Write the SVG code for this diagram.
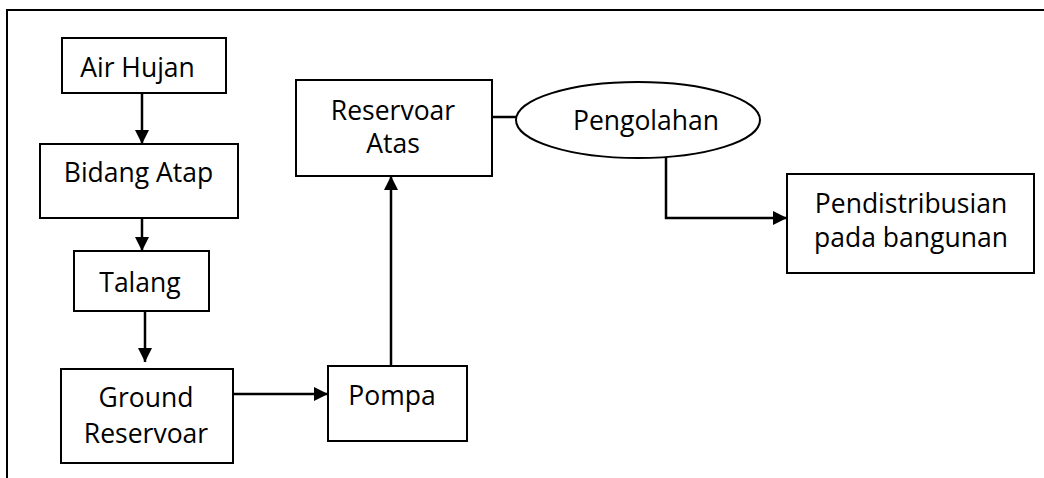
<svg xmlns="http://www.w3.org/2000/svg" width="1044" height="478" viewBox="0 0 1044 478">
<defs>
<style>
.box{fill:#fff;stroke:#000;stroke-width:2}
.t{font-family:"Open Sans","Noto Sans","DejaVu Sans",sans-serif;font-size:26.5px;fill:#000;text-anchor:middle}
.c{fill:none;stroke:#000;stroke-width:2.5}
</style>
<marker id="ah" viewBox="0 0 14 14" refX="14" refY="7" markerWidth="14" markerHeight="14" markerUnits="userSpaceOnUse" orient="auto">
<path d="M0,0 L14,7 L0,14 Z" fill="#000"/>
</marker>
</defs>
<rect width="1044" height="478" fill="#fff"/>
<g id="frame"><path d="M7,478 V10 H1044" fill="none" stroke="#000" stroke-width="2"/></g>
<g id="connectors">
<path class="c" d="M142,93 V144" stroke-width="1.5" marker-end="url(#ah)"/>
<path class="c" d="M142,218 V251" marker-end="url(#ah)"/>
<path class="c" d="M145,311 V362" marker-end="url(#ah)"/>
<path class="c" d="M233,394 H328" marker-end="url(#ah)"/>
<path class="c" d="M391,366 V176" marker-end="url(#ah)"/>
<path class="c" d="M492,117 H516" stroke-width="1.5"/>
<path class="c" d="M666,157 V218 H787" marker-end="url(#ah)"/>
</g>
<g id="air-hujan"><rect class="box" x="62" y="38" width="164" height="55"/><text class="t" x="137.5" y="77">Air Hujan</text></g>
<g id="bidang-atap"><rect class="box" x="40" y="144" width="198" height="74"/><text class="t" x="138.5" y="182">Bidang Atap</text></g>
<g id="talang"><rect class="box" x="74" y="251" width="135" height="60"/><text class="t" x="140" y="292">Talang</text></g>
<g id="ground-reservoar"><rect class="box" x="61" y="369" width="172" height="94"/><text class="t" x="146" y="407">Ground</text><text class="t" x="146" y="443">Reservoar</text></g>
<g id="pompa"><rect class="box" x="328" y="366" width="139" height="75"/><text class="t" x="392" y="405">Pompa</text></g>
<g id="reservoar-atas"><rect class="box" x="296" y="80" width="196" height="96"/><text class="t" x="393" y="120">Reservoar</text><text class="t" x="393" y="153">Atas</text></g>
<g id="pengolahan"><ellipse class="box" cx="638" cy="120" rx="122" ry="38"/><text class="t" x="646" y="130">Pengolahan</text></g>
<g id="pendistribusian"><rect class="box" x="787" y="174" width="247" height="99"/><text class="t" x="911" y="213">Pendistribusian</text><text class="t" x="911" y="247">pada bangunan</text></g>
</svg>
